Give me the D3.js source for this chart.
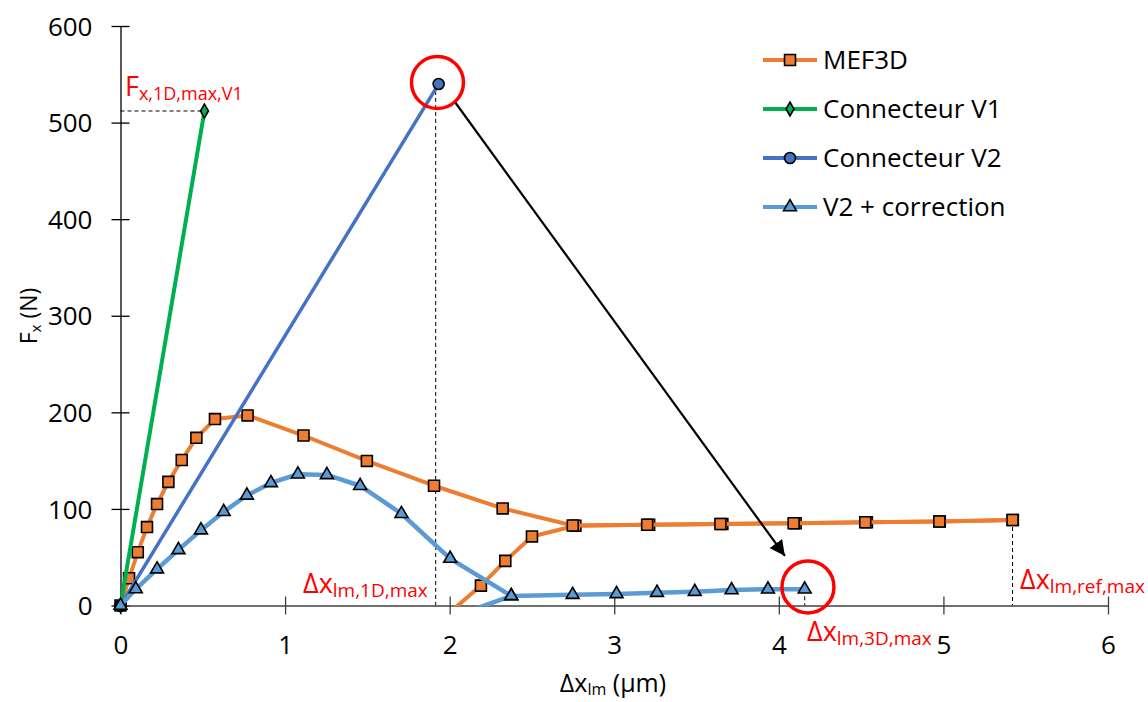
<!DOCTYPE html>
<html><head><meta charset="utf-8">
<script src="https://cdn.jsdelivr.net/npm/d3@7"></script>
<style>body{margin:0;background:#fff}svg{display:block;font-family:"Open Sans",sans-serif}</style>
</head><body>
<svg id="c" width="1148" height="702"></svg>
<script>
// ---- data ----
const xTicks = [0,1,2,3,4,5,6];
const yTicks = [0,100,200,300,400,500,600];

const mefX = [0,0.052,0.105,0.161,0.222,0.291,0.372,0.461,0.574,0.772,1.112,1.497,1.905,2.322,2.748,3.200,3.645,4.090,4.525,4.975,5.420];
const mefY = [0,28.2,55.2,81.2,105,128,150.7,173.6,193,196.8,176,149.7,124,100.5,82.8,83.6,84.4,85.2,86.2,87.0,88.5];
const mef2X = [1.90,2.190,2.338,2.500,2.764,3.212,3.657,4.102,4.535,4.978,5.422];
const mef2Y = [-22,20.6,46.2,71.5,82.6,83.6,84.4,85.2,86.2,87.0,88.5];

const v1X = [0,0.51];
const v1Y = [0,512];
const v2X = [0,1.933];
const v2Y = [0,540];

const corrX = [0,0.093,0.222,0.352,0.489,0.627,0.768,0.914,1.078,1.254,1.456,1.707,2.003,2.374];
const corrY = [0,17,37.6,57.6,78,97,114,126.9,135.9,135.2,124,95,48.6,9.9];
const corr2X = [2.05,2.374,2.747,3.014,3.260,3.489,3.713,3.934,4.157];
const corr2Y = [-10,9.9,11.2,12.0,13.3,14.3,16.0,16.8,16.8];

const seriesNames = ["MEF3D","Connecteur V1","Connecteur V2","V2 + correction"];
const colors = ["#ED7D31","#00B050","#4472C4","#5B9BD5"];

// ---- scales ----
const svg = d3.select("#c");
const x = d3.scaleLinear().domain([0,6]).range([120.5,1108]);
const y = d3.scaleLinear().domain([0,600]).range([605.5,26]);

svg.append("clipPath").attr("id","plot").append("rect")
  .attr("x",x(0)).attr("y",0).attr("width",x(6)-x(0)+40).attr("height",y(0)-0+1);

const zip = (a,b)=>a.map((v,i)=>[v,b[i]]);
const line = d3.line().x(d=>x(d[0])).y(d=>y(d[1]));

// ---- annotation dashed lines ----
const dash = svg.append("g").attr("stroke","#000").attr("stroke-width",1).attr("stroke-dasharray","4,3").attr("fill","none");
dash.append("line").attr("x1",x(0)).attr("x2",x(v1X[1])).attr("y1",y(v1Y[1])).attr("y2",y(v1Y[1]));
dash.append("line").attr("x1",x(1.915)).attr("x2",x(1.915)).attr("y1",y(540)).attr("y2",y(0));
dash.append("line").attr("x1",x(4.157)).attr("x2",x(4.157)).attr("y1",y(16.8)).attr("y2",y(0));
dash.append("line").attr("x1",x(5.42)).attr("x2",x(5.42)).attr("y1",y(88.5)).attr("y2",y(0));

// ---- axes ----
const yAxis = svg.append("g").attr("transform",`translate(${x(0)},0)`)
  .call(d3.axisLeft(y).tickValues(yTicks).tickFormat(d3.format("d")).tickSizeOuter(0).tickSizeInner(9));
yAxis.select(".domain").attr("stroke","#000").attr("stroke-width",1.3);
yAxis.selectAll(".tick line").attr("x1",-9).attr("x2",9).attr("stroke","#000").attr("stroke-width",1.3);
yAxis.selectAll(".tick text").attr("x",-28).attr("dy","0.35em").attr("font-size",26).attr("fill","#000").attr("font-family","Open Sans");

const xAxis = svg.append("g").attr("transform",`translate(0,${y(0)})`)
  .call(d3.axisBottom(x).tickValues(xTicks).tickFormat(d3.format("d")).tickSizeOuter(0).tickSizeInner(9));
xAxis.select(".domain").attr("stroke","#404040").attr("stroke-width",1.3);
xAxis.selectAll(".tick line").attr("y1",-9).attr("y2",9).attr("stroke","#404040").attr("stroke-width",1.3);
xAxis.selectAll(".tick text").attr("y",48).attr("dy","0").attr("font-size",26).attr("fill","#000").attr("font-family","Open Sans");

// ---- series ----
const sq = d3.symbol().type(d3.symbolSquare).size(120);
const tri = d3.symbol().type(d3.symbolTriangle).size(72);
const circ = d3.symbol().type(d3.symbolCircle).size(95);
const dia = d3.symbol().type(d3.symbolDiamond).size(55);

function drawSeries(data, color, width, sym){
  svg.append("path").datum(data).attr("d",line).attr("fill","none")
    .attr("stroke",color).attr("stroke-width",width).attr("stroke-linejoin","round")
    .attr("clip-path","url(#plot)");
  svg.append("g").selectAll("path").data(data.filter(d=>d[1]>=0)).join("path")
    .attr("d",sym).attr("transform",d=>`translate(${x(d[0])},${y(d[1])})`)
    .attr("fill",color).attr("stroke","#000").attr("stroke-width",1.6);
}
drawSeries(zip(mef2X,mef2Y), colors[0], 4, sq);
drawSeries(zip(mefX,mefY), colors[0], 4, sq);
drawSeries(zip(v1X,v1Y), colors[1], 4, dia);
drawSeries(zip(v2X,v2Y), colors[2], 3.5, circ);
drawSeries(zip(corr2X,corr2Y), colors[3], 4.5, tri);
drawSeries(zip(corrX,corrY), colors[3], 4.5, tri);

// ---- arrow ----
svg.append("defs").append("marker").attr("id","ah").attr("viewBox","0 0 10 10")
  .attr("refX",10).attr("refY",5).attr("markerWidth",7).attr("markerHeight",7)
  .attr("markerUnits","strokeWidth").attr("orient","auto")
  .append("path").attr("d","M0,0 L10,5 L0,10 z").attr("fill","#000");
svg.append("line").attr("x1",x(2.032)).attr("y1",y(521.3)).attr("x2",x(4.037)).attr("y2",y(51.3))
  .attr("stroke","#000").attr("stroke-width",2.2).attr("marker-end","url(#ah)");

// ---- red circles ----
svg.append("circle").attr("cx",x(1.926)).attr("cy",y(541.5)).attr("r",26).attr("fill","none").attr("stroke","#FF0000").attr("stroke-width",3.5);
svg.append("circle").attr("cx",x(4.177)).attr("cy",y(19.2)).attr("r",26).attr("fill","none").attr("stroke","#FF0000").attr("stroke-width",3.5);

// ---- red labels ----
function subLabel(px, py, main, sub, fs, sfs){
  const t = svg.append("text").attr("x",px).attr("y",py).attr("fill","#FF0000").attr("font-size",fs);
  t.append("tspan").text(main);
  t.append("tspan").attr("font-size",sfs).attr("dy",4).text(sub);
}
subLabel(125, 96, "F", "x,1D,max,V1", 27, 18);
subLabel(303, 593, "\u0394x", "lm,1D,max", 27, 19);
subLabel(807, 641, "\u0394x", "lm,3D,max", 27, 19);
subLabel(1020, 589, "\u0394x", "lm,ref,max", 27, 19);

// ---- axis titles ----
const yt = svg.append("text").attr("transform","translate(37,316) rotate(-90)").attr("text-anchor","middle").attr("font-size",23).attr("fill","#000");
yt.append("tspan").text("F");
yt.append("tspan").attr("font-size",15).attr("dy",4).text("x");
yt.append("tspan").attr("dy",-4).text(" (N)");

const xt = svg.append("text").attr("x",613).attr("y",692).attr("text-anchor","middle").attr("font-size",25).attr("fill","#000");
xt.append("tspan").text("\u0394x");
xt.append("tspan").attr("font-size",16).attr("dy",3).text("lm");
xt.append("tspan").attr("dy",-3).text(" (\u00B5m)");

// ---- legend ----
const legY = [60,109,158,207];
const legSyms = [sq,dia,circ,tri];
const leg = svg.append("g");
seriesNames.forEach((n,i)=>{
  leg.append("line").attr("x1",763).attr("x2",817).attr("y1",legY[i]).attr("y2",legY[i])
    .attr("stroke",colors[i]).attr("stroke-width",4);
  leg.append("path").attr("d",legSyms[i]).attr("transform",`translate(790,${legY[i]})`)
    .attr("fill",colors[i]).attr("stroke","#000").attr("stroke-width",1.6);
  leg.append("text").attr("x",823).attr("y",legY[i]).attr("dy","0.35em").attr("font-size",26).attr("fill","#000").text(n);
});
</script>
</body></html>
